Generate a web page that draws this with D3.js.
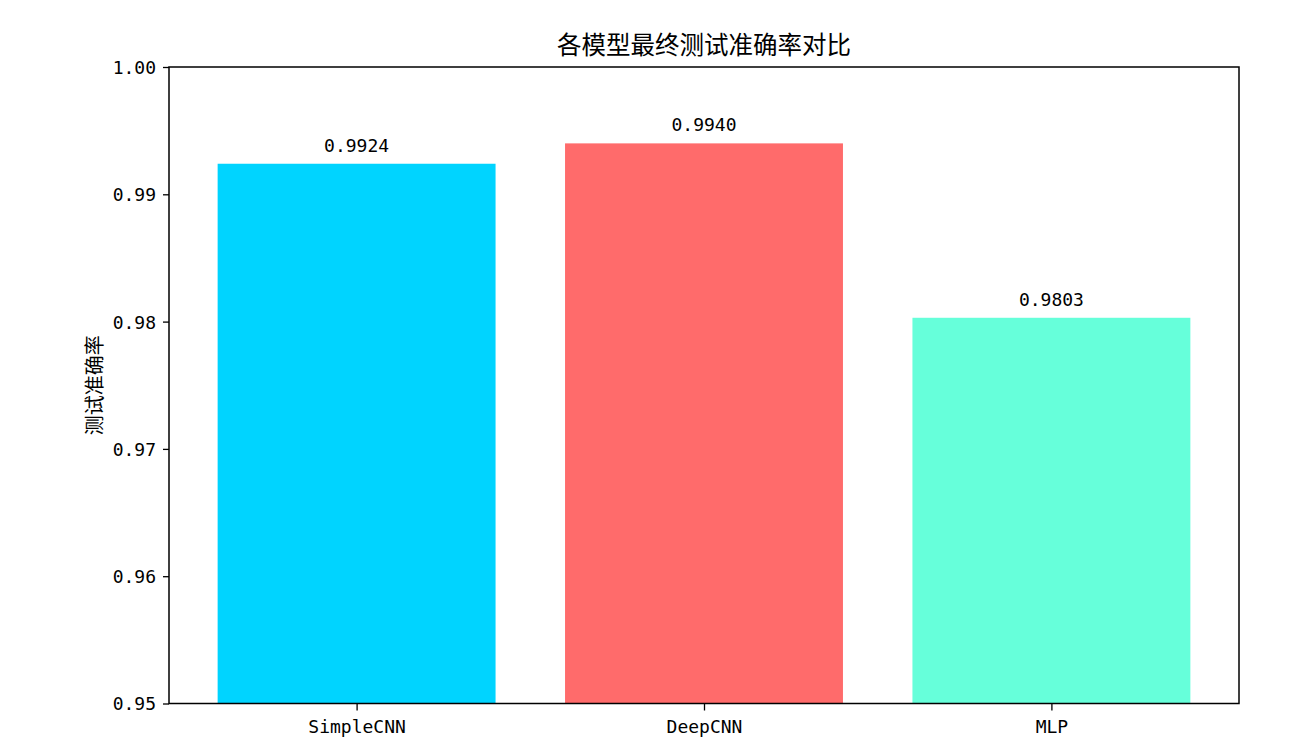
<!DOCTYPE html>
<html>
<head>
<meta charset="utf-8">
<script src="https://cdn.jsdelivr.net/npm/d3@7"></script>
<style>
  html, body { margin: 0; padding: 0; background: #fff; }
  svg text { font-family: "Noto Sans CJK SC", sans-serif; fill: #000; }
  .latin { font-family: "DejaVu Sans Mono", monospace; }
</style>
</head>
<body>
<div id="chart"></div>
<script>
// Chart data
var models = ["SimpleCNN", "DeepCNN", "MLP"];
var accuracy = [0.9924, 0.9940, 0.9803];
var barColors = ["#00D4FF", "#FF6B6B", "#66FFDA"];
var yTicks = [0.95, 0.96, 0.97, 0.98, 0.99, 1.00];

var W = 1290, H = 755;
var margin = { top: 67, right: 51, bottom: 51.5, left: 169 },
    width = W - margin.left - margin.right,
    height = H - margin.top - margin.bottom;

var svg = d3.select("#chart")
    .append("svg")
    .attr("width", W)
    .attr("height", H);

var g = svg.append("g")
    .attr("transform", "translate(" + margin.left + "," + margin.top + ")");

// matplotlib-style bar positions: bars of width 0.8 at integer positions, 5% margins
var x = d3.scaleLinear().domain([-0.54, models.length - 1 + 0.54]).range([0, width]);
var y = d3.scaleLinear().domain([0.95, 1.00]).range([height, 0]);
var barW = 0.8;

// Bars
g.selectAll(".bar")
    .data(accuracy)
    .enter().append("rect")
    .attr("class", "bar")
    .attr("x", function(d, i) { return x(i - barW / 2); })
    .attr("width", function(d, i) { return x(i + barW / 2) - x(i - barW / 2); })
    .attr("y", function(d) { return y(d); })
    .attr("height", function(d) { return height - y(d); })
    .style("fill", function(d, i) { return barColors[i]; });

// Value labels
g.selectAll(".val")
    .data(accuracy)
    .enter().append("text")
    .attr("class", "val latin")
    .attr("x", function(d, i) { return x(i); })
    .attr("y", function(d) { return y(d) - 12; })
    .attr("text-anchor", "middle")
    .style("font-size", "18px")
    .text(function(d) { return d.toFixed(4); });

// Y axis
var yAxis = d3.axisLeft(y)
    .tickValues(yTicks)
    .tickFormat(d3.format(".2f"))
    .tickSize(6)
    .tickPadding(7);
var yg = g.append("g").call(yAxis);
yg.select(".domain").remove();
yg.selectAll(".tick line").attr("stroke", "#000").attr("stroke-width", 1.3);
yg.selectAll(".tick text")
    .attr("class", "latin")
    .style("font-size", "18px")
    .attr("dy", "0.36em");

// X axis
var xAxis = d3.axisBottom(x)
    .tickValues(d3.range(models.length))
    .tickFormat(function(i) { return models[i]; })
    .tickSize(7)
    .tickPadding(6);
var xg = g.append("g")
    .attr("transform", "translate(0," + height + ")")
    .call(xAxis);
xg.select(".domain").remove();
xg.selectAll(".tick line").attr("stroke", "#000").attr("stroke-width", 1.3);
xg.selectAll(".tick text")
    .attr("class", "latin")
    .style("font-size", "18px")
    .attr("dy", "0.9em");

// Frame (spines)
g.append("rect")
    .attr("x", 0).attr("y", 0)
    .attr("width", width).attr("height", height)
    .attr("fill", "none")
    .attr("stroke", "#000")
    .attr("stroke-width", 1.5);

// Title
g.append("text")
    .attr("x", width / 2)
    .attr("y", -13)
    .attr("text-anchor", "middle")
    .style("font-size", "24.5px")
    .text("各模型最终测试准确率对比");

// Y label
g.append("text")
    .attr("transform", "translate(" + (-67) + "," + (height / 2) + ") rotate(-90)")
    .attr("text-anchor", "middle")
    .style("font-size", "20px")
    .text("测试准确率");
</script>
</body>
</html>
